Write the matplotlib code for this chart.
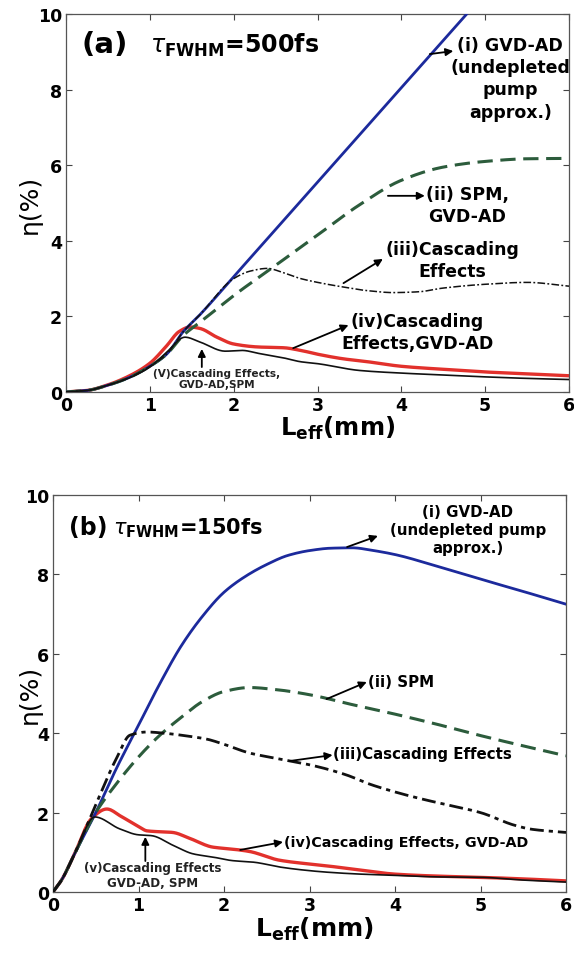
import numpy as np
import matplotlib
matplotlib.use("Agg")
import matplotlib.pyplot as plt

# ---------------- data: panel (a) tau=500 fs ----------------
a_i_x = [0, 0.25, 0.5, 0.75, 1.0, 1.2, 1.4, 1.6, 2.0, 2.5, 3.0, 3.5, 4.0, 4.5, 4.8]
a_i_y = [0, 0.04, 0.18, 0.38, 0.68, 1.0, 1.6, 2.05, 3.05, 4.3, 5.55, 6.8, 8.05, 9.3, 10.05]

a_ii_x = [0, 0.25, 0.5, 0.75, 1.0, 1.2, 1.4, 1.6, 2.0, 2.5, 3.0, 3.5, 4.0, 4.5, 5.0, 5.5, 6.0]
a_ii_y = [0, 0.04, 0.18, 0.38, 0.68, 1.0, 1.5, 1.85, 2.55, 3.35, 4.15, 4.95, 5.6, 5.95, 6.1, 6.17, 6.18]

a_iii_x = [0, 0.25, 0.5, 0.75, 1.0, 1.2, 1.4, 1.6, 2.0, 2.2, 2.4, 2.6, 2.8, 3.0, 3.3, 3.6, 3.9, 4.2, 4.5, 5.0, 5.5, 6.0]
a_iii_y = [0, 0.04, 0.18, 0.38, 0.68, 1.0, 1.6, 2.05, 3.0, 3.2, 3.27, 3.15, 3.0, 2.9, 2.78, 2.68, 2.63, 2.65, 2.75, 2.85, 2.9, 2.8]

a_iv_x = [0, 0.25, 0.5, 0.75, 1.0, 1.2, 1.35, 1.48, 1.6, 1.8, 2.0, 2.3, 2.6, 2.8, 3.0, 3.3, 3.6, 4.0, 4.5, 5.0, 5.5, 6.0]
a_iv_y = [0, 0.04, 0.19, 0.42, 0.76, 1.22, 1.6, 1.72, 1.68, 1.45, 1.27, 1.19, 1.17, 1.1, 1.0, 0.88, 0.8, 0.68, 0.6, 0.53, 0.48, 0.43]

a_v_x = [0, 0.25, 0.5, 0.75, 1.0, 1.2, 1.42, 1.6, 1.9, 2.1, 2.3, 2.6, 2.8, 3.0, 3.5, 4.0, 4.5, 5.0, 5.5, 6.0]
a_v_y = [0, 0.04, 0.18, 0.37, 0.66, 1.05, 1.45, 1.32, 1.08, 1.1, 1.02, 0.9, 0.8, 0.75, 0.57, 0.5, 0.45, 0.4, 0.36, 0.33]

# ---------------- data: panel (b) tau=150 fs ----------------
b_i_x = [0, 0.1, 0.25, 0.5, 0.75, 1.0, 1.25, 1.5, 1.75, 2.0, 2.25, 2.5, 2.75, 3.0, 3.25, 3.5, 3.75, 4.0, 4.5, 5.0, 5.5, 6.0]
b_i_y = [0, 0.3, 0.95, 2.0, 3.15, 4.2, 5.25, 6.2, 6.95, 7.55, 7.95, 8.25, 8.48, 8.6, 8.66, 8.67, 8.6, 8.5, 8.2, 7.88, 7.57, 7.25]

b_ii_x = [0, 0.1, 0.25, 0.5, 0.75, 1.0, 1.25, 1.5, 1.75, 2.0, 2.3, 2.6, 3.0, 3.5, 4.0, 4.5, 5.0, 5.5, 6.0]
b_ii_y = [0, 0.3, 0.95, 2.0, 2.75, 3.4, 3.95, 4.4, 4.8, 5.05, 5.15, 5.1, 4.97, 4.72, 4.48, 4.22, 3.94, 3.68, 3.43]

b_iii_x = [0, 0.1, 0.25, 0.5, 0.75, 0.9, 1.1, 1.3, 1.6, 1.8, 2.0, 2.3, 2.65, 3.05, 3.43, 3.7, 4.0, 4.3, 4.6, 5.0, 5.4, 5.6, 6.0]
b_iii_y = [0, 0.3, 0.95, 2.2, 3.4, 3.95, 4.03, 4.0, 3.92, 3.85, 3.72, 3.5, 3.35, 3.18, 2.95, 2.72, 2.52, 2.35, 2.2, 2.0, 1.68, 1.58, 1.5]

b_iv_x = [0, 0.1, 0.25, 0.45, 0.63, 0.8, 1.0, 1.1, 1.4, 1.6, 1.87, 2.1, 2.3, 2.65, 3.2, 3.6, 4.0, 4.5, 5.0, 5.5, 6.0]
b_iv_y = [0, 0.3, 0.95, 1.85, 2.09, 1.9, 1.65, 1.54, 1.5, 1.35, 1.13, 1.08, 1.02, 0.8, 0.66, 0.55, 0.45, 0.4, 0.37, 0.33, 0.28]

b_v_x = [0, 0.1, 0.25, 0.49, 0.78, 1.0, 1.15, 1.41, 1.64, 1.87, 2.1, 2.35, 2.65, 2.9, 3.2, 3.6, 4.0, 4.5, 5.0, 5.5, 6.0]
b_v_y = [0, 0.3, 0.95, 1.89, 1.59, 1.44, 1.42, 1.17, 0.96, 0.88, 0.79, 0.75, 0.63, 0.56, 0.5, 0.45, 0.42, 0.38, 0.37, 0.3, 0.25]

x_ticks = [0, 1, 2, 3, 4, 5, 6]
y_ticks = [0, 2, 4, 6, 8, 10]


def smooth(x, y, n=400):
    x = np.asarray(x, float)
    y = np.asarray(y, float)
    xs = np.linspace(x[0], x[-1], n)
    # monotone cubic (PCHIP-like) interpolation for smooth drawing
    h = np.diff(x)
    d = np.diff(y) / h
    m = np.zeros_like(y)
    m[0], m[-1] = d[0], d[-1]
    for k in range(1, len(x) - 1):
        if d[k - 1] * d[k] <= 0:
            m[k] = 0.0
        else:
            w1 = 2 * h[k] + h[k - 1]
            w2 = h[k] + 2 * h[k - 1]
            m[k] = (w1 + w2) / (w1 / d[k - 1] + w2 / d[k])
    idx = np.clip(np.searchsorted(x, xs) - 1, 0, len(x) - 2)
    t = (xs - x[idx]) / h[idx]
    h00 = 2 * t**3 - 3 * t**2 + 1
    h10 = t**3 - 2 * t**2 + t
    h01 = -2 * t**3 + 3 * t**2
    h11 = t**3 - t**2
    ys = h00 * y[idx] + h10 * h[idx] * m[idx] + h01 * y[idx + 1] + h11 * h[idx] * m[idx + 1]
    return xs, ys


BLUE = "#1c2a9c"
GREEN = "#2c5c3c"
RED = "#e2312c"
BLACK = "#111111"

plt.rcParams["font.family"] = ["DejaVu Sans"]
plt.rcParams["mathtext.fontset"] = "dejavusans"

fig = plt.figure(figsize=(5.74, 9.54), dpi=100)
ax1 = fig.add_axes([66 / 574, 1 - 393 / 954, 503 / 574, 378 / 954])
ax2 = fig.add_axes([53 / 574, 1 - 893 / 954, 513 / 574, 397 / 954])


def style(ax):
    ax.set_xlim(0, 6)
    ax.set_ylim(0, 10)
    ax.set_xticks(x_ticks)
    ax.set_yticks(y_ticks)
    ax.set_xticklabels([str(v) for v in x_ticks], fontsize=12.5, fontweight="bold")
    ax.set_yticklabels([str(v) for v in y_ticks], fontsize=12.5, fontweight="bold")
    ax.tick_params(direction="in", length=4, width=0.8, top=True, right=True, color="#444444", pad=3)
    for s in ax.spines.values():
        s.set_color("#555555")
        s.set_linewidth(0.9)
    ax.set_ylabel("η(%)", fontsize=18)


arrow = dict(arrowstyle="-|>", color="k", lw=1.3, mutation_scale=11, shrinkA=0, shrinkB=0)
fs = 12.5
fs2 = 10.8

# ---------- panel (a) ----------
ax1.plot(*smooth(a_i_x, a_i_y), color=BLUE, lw=2.0, zorder=3)
ax1.plot(*smooth(a_ii_x, a_ii_y), color=GREEN, lw=2.2, dashes=(5, 2.5), zorder=3)
ax1.plot(*smooth(a_iii_x, a_iii_y), color=BLACK, lw=1.1, dashes=(5, 1.5, 1.2, 1.5), zorder=3)
ax1.plot(*smooth(a_iv_x, a_iv_y), color=RED, lw=2.4, zorder=2)
ax1.plot(*smooth(a_v_x, a_v_y), color=BLACK, lw=1.2, zorder=4)
style(ax1)
ax1.set_xlabel(r"$\mathbf{L_{eff}}$(mm)", fontsize=17.5, fontweight="bold")
ax1.xaxis.set_label_coords(0.541, -0.058)
ax1.yaxis.set_label_coords(-0.048, 0.5)

ax1.text(0.19, 9.2, "(a)", fontsize=21, fontweight="bold", va="center", ha="left")
ax1.text(1.0, 9.2, r"$\tau_{\mathbf{FWHM}}$=500fs", fontsize=17, fontweight="bold", va="center", ha="left")

ax1.annotate("", xy=(4.62, 9.02), xytext=(4.34, 8.94), arrowprops=arrow)
ax1.text(5.30, 8.30, "(i) GVD-AD\n(undepleted\npump\napprox.)", fontsize=fs, fontweight="bold",
         ha="center", va="center", linespacing=1.3)
ax1.annotate("", xy=(4.28, 5.19), xytext=(3.84, 5.19), arrowprops=arrow)
ax1.text(4.79, 4.95, "(ii) SPM,\nGVD-AD", fontsize=fs, fontweight="bold", ha="center", va="center",
         linespacing=1.25)
ax1.annotate("", xy=(3.78, 3.52), xytext=(3.31, 2.88), arrowprops=arrow)
ax1.text(4.61, 3.49, "(iii)Cascading\nEffects", fontsize=fs, fontweight="bold", ha="center", va="center",
         linespacing=1.25)
ax1.annotate("", xy=(3.37, 1.77), xytext=(2.71, 1.16), arrowprops=arrow)
ax1.text(4.19, 1.59, "(iv)Cascading\nEffects,GVD-AD", fontsize=fs, fontweight="bold", ha="center",
         va="center", linespacing=1.25)
ax1.annotate("", xy=(1.62, 1.14), xytext=(1.62, 0.66), arrowprops=arrow)
ax1.text(1.80, 0.36, "(V)Cascading Effects,\nGVD-AD,SPM", fontsize=7.6, fontweight="bold", ha="center",
         va="center", linespacing=1.2, color="#222222")

# ---------- panel (b) ----------
ax2.plot(*smooth(b_i_x, b_i_y), color=BLUE, lw=2.0, zorder=3)
ax2.plot(*smooth(b_ii_x, b_ii_y), color=GREEN, lw=2.2, dashes=(5, 2.5), zorder=3)
ax2.plot(*smooth(b_iii_x, b_iii_y), color=BLACK, lw=2.0, dashes=(5, 1.8, 1.5, 1.8), zorder=3)
ax2.plot(*smooth(b_iv_x, b_iv_y), color=RED, lw=2.4, zorder=2)
ax2.plot(*smooth(b_v_x, b_v_y), color=BLACK, lw=1.2, zorder=4)
style(ax2)
ax2.set_xlabel(r"$\mathbf{L_{eff}}$(mm)", fontsize=18, fontweight="bold")
ax2.xaxis.set_label_coords(0.51, -0.058)
ax2.yaxis.set_label_coords(-0.022, 0.5)

ax2.text(0.19, 9.19, "(b)", fontsize=17, fontweight="bold", va="center", ha="left")
ax2.text(0.70, 9.19, r"$\tau_{\mathbf{FWHM}}$=150fs", fontsize=15, fontweight="bold", va="center", ha="left")

ax2.annotate("", xy=(3.80, 8.97), xytext=(3.44, 8.69), arrowprops=arrow)
ax2.text(4.85, 9.14, "(i) GVD-AD\n(undepleted pump\napprox.)", fontsize=fs2, fontweight="bold",
         ha="center", va="center", linespacing=1.25)
ax2.annotate("", xy=(3.67, 5.29), xytext=(3.20, 4.86), arrowprops=arrow)
ax2.text(3.68, 5.31, "(ii) SPM", fontsize=fs2, fontweight="bold", ha="left", va="center")
ax2.annotate("", xy=(3.27, 3.45), xytext=(2.77, 3.30), arrowprops=arrow)
ax2.text(3.28, 3.48, "(iii)Cascading Effects", fontsize=fs2, fontweight="bold", ha="left", va="center")
ax2.annotate("", xy=(2.69, 1.26), xytext=(2.19, 1.06), arrowprops=arrow)
ax2.text(2.70, 1.26, "(iv)Cascading Effects, GVD-AD", fontsize=10.3, fontweight="bold", ha="left",
         va="center")
ax2.annotate("", xy=(1.08, 1.39), xytext=(1.08, 0.78), arrowprops=arrow)
ax2.text(1.17, 0.43, "(v)Cascading Effects\nGVD-AD, SPM", fontsize=8.6, fontweight="bold", ha="center",
         va="center", linespacing=1.15, color="#222222")

fig.savefig("out.png", dpi=100)
